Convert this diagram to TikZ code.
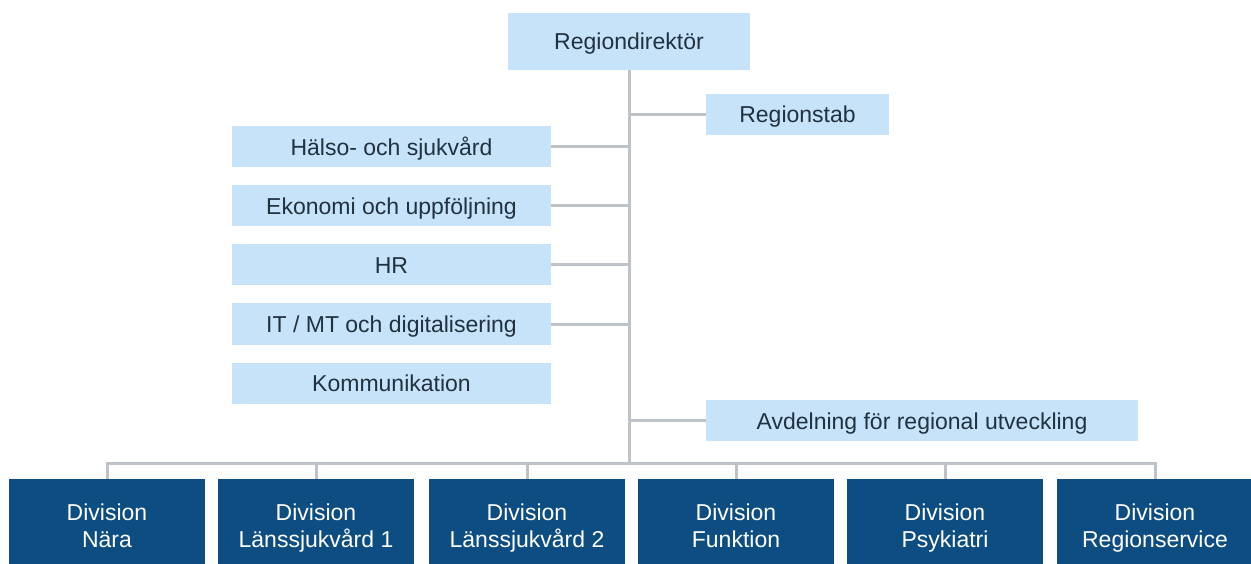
\documentclass[tikz,border=0pt]{standalone}
\usepackage{fontspec}
\setmainfont{Liberation Sans}
\usetikzlibrary{positioning}
\definecolor{lightbox}{HTML}{C6E3F9}
\definecolor{darkbox}{HTML}{0D4D82}
\definecolor{connline}{HTML}{BEC3C9}
\definecolor{boxtext}{HTML}{22313F}

\begin{document}
\begin{tikzpicture}[x=1pt,y=-1pt,font=\fontsize{23}{27}\selectfont,
  staff/.style={fill=lightbox,text=boxtext,inner sep=0pt,minimum height=41pt,text height=17pt,text depth=0pt},
  division/.style={fill=darkbox,text=white,inner sep=0pt,minimum width=196pt,minimum height=100pt,align=center},
  conn/.style={draw=connline,line width=3pt}]
  \useasboundingbox (0,0) rectangle (1251,564);
  % Top
  \node[staff,minimum width=242pt,minimum height=57pt] (rd) at (629,41.5) {Regiondirektör};
  \node[staff,minimum width=183pt] (stab) at (797.5,114.5) {Regionstab};
  \coordinate (bus) at (629,463);

  % Left staff units
  \node[staff,minimum width=319pt] (hos) at (391.5,147) {Hälso- och sjukvård};
  \node[staff,minimum width=319pt] (eko) at (391.5,206) {Ekonomi och uppföljning};
  \node[staff,minimum width=319pt] (hr) at (391.5,265) {HR};
  \node[staff,minimum width=319pt] (it) at (391.5,324) {IT / MT och digitalisering};
  \node[staff,minimum width=319pt] (komm) at (391.5,383) {Kommunikation};
  \node[staff,minimum width=432pt] (avd) at (922,420.5) {Avdelning för regional utveckling};

  % Divisions
  \node[division] (nara) at (107,529) {Division\strut\\Nära\strut};
  \node[division] (ls1) at (316,529) {Division\strut\\Länssjukvård 1\strut};
  \node[division] (ls2) at (527,529) {Division\strut\\Länssjukvård 2\strut};
  \node[division] (funk) at (736,529) {Division\strut\\Funktion\strut};
  \node[division] (psyk) at (945,529) {Division\strut\\Psykiatri\strut};
  \node[division] (rserv) at (1155,529) {Division\strut\\Regionservice\strut};

  % Connectors
  \draw[conn] (rd.south) -- (bus);
  \draw[conn] (stab.west) -- (stab.west -| rd.south);
  \foreach \u in {hos,eko,hr,it}
    \draw[conn] (\u.east) -- (\u.east -| rd.south);
  \draw[conn] (avd.west) -- (avd.west -| rd.south);
  \draw[conn,line cap=rect] (nara.north |- bus) -- (rserv.north |- bus);
  \foreach \d in {nara,ls1,ls2,funk,psyk,rserv}
    \draw[conn] (\d.north) -- (\d.north |- bus);
\end{tikzpicture}
\end{document}
